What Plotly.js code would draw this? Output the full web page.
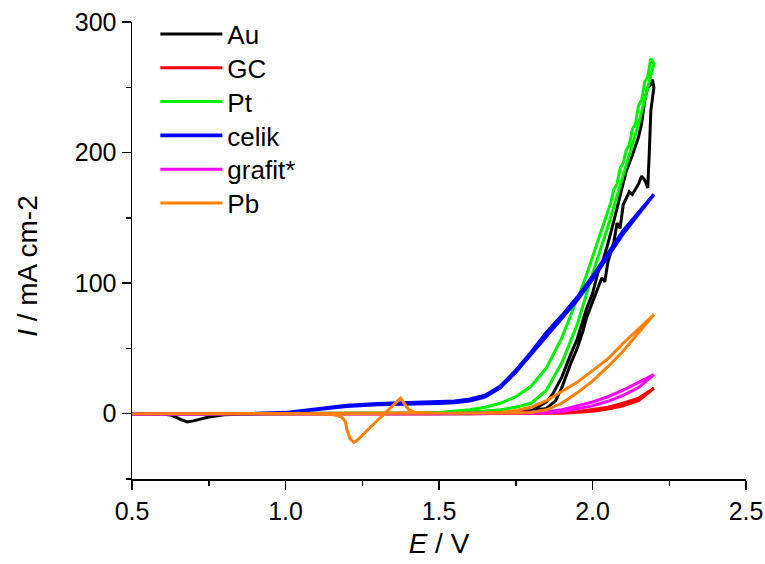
<!DOCTYPE html>
<html>
<head>
<meta charset="utf-8">
<script src="https://cdn.plot.ly/plotly-3.0.1.min.js"></script>
<style>html,body{margin:0;padding:0;background:#fff;}#chart{width:765px;height:564px;}</style>
</head>
<body>
<div id="chart"></div>
<script>
// Series names
const seriesNames = ["Au", "GC", "Pt", "celik", "grafit*", "Pb"];

// Au (forward then reverse scan)
const auE = [0.5, 0.8, 1.0, 1.2, 1.4, 1.6, 1.7, 1.75, 1.8, 1.85, 1.88, 1.9, 1.93, 1.95, 1.97, 1.98, 2.0, 2.02, 2.03, 2.04, 2.05, 2.07, 2.08, 2.09, 2.1, 2.12, 2.13, 2.15, 2.16, 2.17, 2.18, 2.185, 2.19, 2.2,
             2.195, 2.19, 2.18, 2.17, 2.16, 2.15, 2.14, 2.13, 2.11, 2.1, 2.09, 2.07, 2.05, 2.03, 2.02, 2.0, 1.98, 1.96, 1.95, 1.93, 1.9, 1.87, 1.85, 1.8, 1.75, 1.6, 1.2, 0.9, 0.8, 0.75, 0.7, 0.68, 0.66, 0.63, 0.6, 0.5];
const auI = [0, 0, 0, 0, 0, 0.3, 0.8, 1.5, 2.5, 4, 10, 20, 39, 50, 64, 73, 85, 98, 104, 101, 116, 132, 146, 142, 160, 170, 168, 176, 182, 179, 173, 200, 232, 250,
             256, 252, 250, 240, 222, 212, 205, 198, 186, 176, 166, 148, 130, 114, 110, 92, 80, 64, 57, 46, 28, 15, 9, 2, 0.5, 0, 0, 0, -0.8, -2.5, -5.5, -6.3, -4.5, -1.2, -0.3, 0];

// GC
const gcE = [0.5, 1.0, 1.5, 1.8, 1.9, 1.95, 2.0, 2.05, 2.1, 2.15, 2.2, 2.15, 2.1, 2.05, 2.0, 1.95, 1.9, 1.5, 1.0, 0.5];
const gcI = [0, 0, 0, 0.2, 0.5, 1.5, 3, 5, 8, 12, 19.5, 10, 6, 3.5, 1.8, 0.8, 0.3, 0, 0, 0];

// Pt
const ptE = [0.5, 1.0, 1.2, 1.4, 1.5, 1.6, 1.7, 1.75, 1.8, 1.85, 1.9, 1.95, 2.0, 2.05, 2.1, 2.15, 2.2,
             2.19, 2.18, 2.17, 2.16, 2.15, 2.14, 2.13, 2.12, 2.11, 2.1, 2.09, 2.08, 2.07, 2.06, 2.05, 2.04, 2.03, 2.02, 2.01, 2.0, 1.98, 1.96, 1.95, 1.9, 1.85, 1.8, 1.75, 1.7, 1.65, 1.6, 1.55, 1.5, 1.4, 1.2, 1.0, 0.5];
const ptI = [0, 0, 0, 0.2, 0.5, 1.2, 3, 5, 8, 18, 39, 68, 107, 143, 182, 222, 268,
             272, 258, 254, 240, 236, 222, 218, 206, 202, 192, 188, 176, 172, 162, 155, 148, 140, 134, 126, 120, 106, 93, 88, 58, 35, 21, 13, 8, 5, 3, 1.8, 1, 0.3, 0, 0, 0];

// celik
const celikE = [0.5, 0.8, 0.9, 1.0, 1.05, 1.1, 1.15, 1.2, 1.3, 1.4, 1.5, 1.55, 1.6, 1.65, 1.7, 1.75, 1.8, 1.85, 1.9, 1.95, 2.0, 2.05, 2.1, 2.15, 2.2,
                2.15, 2.1, 2.05, 2.0, 1.95, 1.9, 1.85, 1.8, 1.75, 1.7, 1.65, 1.6, 1.55, 1.5, 1.4, 1.3, 1.2, 1.15, 1.1, 1.05, 1.0, 0.9, 0.8, 0.5];
const celikI = [0, 0, 0.2, 0.8, 2, 3.5, 5, 6.2, 7.5, 8.2, 8.8, 9.5, 11, 14, 21, 33, 47, 62, 75, 89, 105, 122, 140, 154, 168,
                153, 138, 120, 103, 87, 73, 60, 45, 32, 20, 13, 10, 8.6, 8, 7.6, 7, 5.8, 4.6, 3.2, 1.8, 0.7, 0.1, 0, 0];

// grafit*
const grafitE = [0.5, 1.0, 1.5, 1.8, 1.85, 1.9, 1.95, 2.0, 2.05, 2.1, 2.15, 2.2, 2.15, 2.1, 2.05, 2.0, 1.95, 1.9, 1.85, 1.5, 1.0, 0.5];
const grafitI = [-0.5, 0, 0, 0.3, 0.5, 1.5, 3.5, 6, 9.5, 14, 20, 30, 24, 18, 13, 9, 6, 3, 1.5, 0, 0, -0.5];

// Pb
const pbE = [0.5, 1.0, 1.5, 1.6, 1.7, 1.75, 1.8, 1.85, 1.9, 1.95, 2.0, 2.05, 2.1, 2.15, 2.2,
             2.15, 2.1, 2.05, 2.0, 1.95, 1.9, 1.85, 1.8, 1.75, 1.7, 1.6, 1.5, 1.45, 1.42, 1.4, 1.385, 1.375, 1.3, 1.232, 1.222, 1.21, 1.2, 1.195, 1.185, 1.17, 1.15, 1.1, 0.5];
const pbI = [0, 0, 0, 0.2, 0.4, 0.5, 1, 3, 8, 16, 25, 36, 48, 62, 76,
             65, 54, 42, 33, 24, 17, 10, 5, 2.5, 1, 0.3, 0.3, 0.5, 1, 3.4, 9, 12, -5, -20.7, -22, -19, -12, -6, -3, -1.5, -0.5, 0, 0];

const xTickVals = [0.5, 1.0, 1.5, 2.0, 2.5];
const yTickVals = [0, 100, 200, 300];

const colors = ["#000000", "#ff0000", "#00ee00", "#0000ff", "#ff00ff", "#ff8000"];
const xs = [auE, gcE, ptE, celikE, grafitE, pbE];
const ys = [auI, gcI, ptI, celikI, grafitI, pbI];
const widths = [3, 3, 3, 3.6, 3, 3];

const FONT = "Arial, 'Liberation Sans', sans-serif";
const legendIds = seriesNames.map((n, i) => i === 0 ? "legend" : "legend" + (i + 1));

const traces = seriesNames.map((n, i) => ({
  type: "scatter", mode: "lines", name: n, x: xs[i], y: ys[i],
  legend: legendIds[i],
  line: {color: colors[i], width: widths[i]}
}));

const plotH = 564 - 22 - 85;
const layout = {
  width: 765, height: 564,
  margin: {l: 132, r: 19, t: 22, b: 85, autoexpand: false},
  paper_bgcolor: "#fff", plot_bgcolor: "#fff",
  font: {family: FONT, size: 25, color: "#000"},
  showlegend: true,
  xaxis: {
    range: [0.5, 2.5], showgrid: false, zeroline: false, automargin: false,
    showline: true, linecolor: "#000", linewidth: 1.5, mirror: false,
    ticks: "outside", ticklen: 9, tickwidth: 1.5, tickcolor: "#000",
    tickvals: xTickVals, ticktext: xTickVals.map(v => v.toFixed(1)),
    tickfont: {family: FONT, size: 25, color: "#000"},
    minor: {dtick: 0.25, ticklen: 5, tickwidth: 1.5, tickcolor: "#000", ticks: "outside", showgrid: false},
    title: {text: "<i>E</i> / V", font: {family: FONT, size: 28, color: "#000"}, standoff: 10}
  },
  yaxis: {
    range: [-50, 300], showgrid: false, zeroline: false, automargin: false,
    showline: true, linecolor: "#000", linewidth: 1.5, mirror: false,
    ticks: "outside", ticklen: 9, tickwidth: 1.5, tickcolor: "#000",
    tickvals: yTickVals, ticktext: yTickVals.map(String),
    tickfont: {family: FONT, size: 25, color: "#000"},
    minor: {dtick: 50, ticklen: 5, tickwidth: 1.5, tickcolor: "#000", ticks: "outside", showgrid: false},
    title: {text: "<i>I</i> / mA cm-2&nbsp;&nbsp;&nbsp;&nbsp;", font: {family: FONT, size: 28, color: "#000"}, standoff: 29}
  }
};

legendIds.forEach((id, i) => {
  layout[id] = {
    x: 0.038, y: 1.025 - i * 33.8 / plotH, xanchor: "left", yanchor: "top",
    bgcolor: "rgba(0,0,0,0)", font: {family: FONT, size: 26, color: "#000"},
    itemwidth: 62
  };
});

Plotly.newPlot("chart", traces, layout, {displayModeBar: false, staticPlot: true});
</script>
</body>
</html>
